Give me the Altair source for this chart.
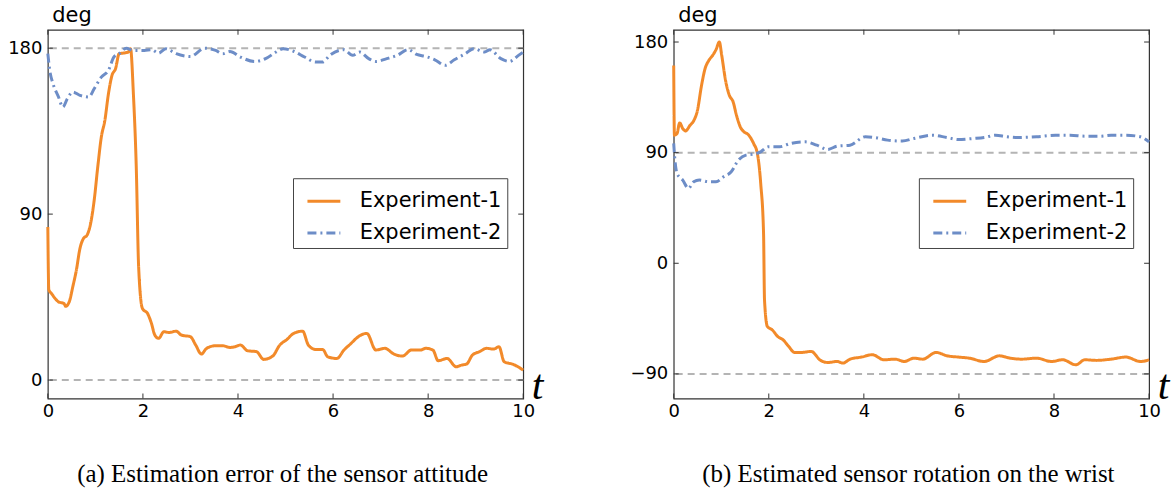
import altair as alt
import pandas as pd

# ---------------- data ----------------
# panel (a): estimation error of the sensor attitude
T_A1 = [0, 0.02, 0.075, 0.225, 0.34, 0.375, 0.45, 0.525, 0.6, 0.675,
        0.75, 0.825, 0.9, 0.975, 1.05, 1.125, 1.2, 1.275, 1.35, 1.425,
        1.5, 1.575, 1.69, 1.74, 1.8, 1.86, 1.91, 1.99, 2.1, 2.18,
        2.25, 2.33, 2.44, 2.55, 2.7, 2.81, 3.0, 3.11, 3.23, 3.34,
        3.53, 3.68, 3.83, 3.94, 4.05, 4.2, 4.39, 4.54, 4.73, 4.88,
        5.03, 5.17, 5.36, 5.48, 5.63, 5.78, 5.89, 6.08, 6.23, 6.38,
        6.53, 6.71, 6.9, 7.09, 7.28, 7.46, 7.65, 7.84, 7.95, 8.1,
        8.21, 8.4, 8.59, 8.7, 8.81, 8.93, 9.08, 9.23, 9.38, 9.49,
        9.6, 9.79, 10]
V_A1 = [83, 49, 47, 42.4, 41.5, 40, 42.4, 50.6, 59.6, 71.3,
        76.8, 78.6, 84.9, 97.5, 115.6, 131.8, 140.9, 155.3, 165.3, 168.9,
        177, 177.3, 177.9, 179.7, 155, 115.6, 61.4, 38.8, 36, 30.7,
        24.4, 22.6, 26.2, 25.8, 26.5, 24.4, 23.5, 19, 14.1, 17.2,
        18.6, 18.6, 17.7, 18.1, 19, 15.9, 15.4, 11.2, 13, 19,
        22, 25.3, 26.5, 19, 16.6, 16.6, 12.6, 11.7, 16.3, 19.9,
        23.5, 25.3, 16.3, 17.2, 14.1, 13, 16.3, 16.3, 17.2, 16.3,
        10.5, 11.7, 7.2, 8.1, 8.7, 13.5, 15.4, 17.2, 16.8, 18.1,
        9.9, 8.5, 5.4]
T_A2 = [0, 0.04, 0.11, 0.225, 0.315, 0.41, 0.525, 0.675, 0.86, 0.975,
        1.125, 1.275, 1.39, 1.5, 1.65, 1.8, 2.03, 2.18, 2.33, 2.48,
        2.7, 3.0, 3.3, 3.53, 3.68, 3.83, 4.05, 4.35, 4.58, 4.8,
        4.95, 5.18, 5.4, 5.63, 5.78, 5.93, 6.23, 6.41, 6.56, 6.75,
        6.9, 7.13, 7.35, 7.58, 7.76, 7.95, 8.14, 8.36, 8.55, 8.78,
        8.96, 9.19, 9.3, 9.53, 9.71, 9.9, 10]
V_A2 = [177, 168, 160.7, 153.5, 148, 152.6, 156.2, 154.4, 153.5, 158,
        164.3, 168, 175.2, 177, 180, 178.8, 178.8, 179.2, 177.3, 179.7,
        177, 175.5, 180, 178.8, 177, 178.2, 175.2, 172.8, 174.3, 177.9,
        179.7, 178.2, 175.2, 172.5, 172.5, 176.1, 179.2, 176.1, 177.9, 174.3,
        172.8, 174.3, 176.1, 179.2, 176.6, 175.5, 173.7, 170.7, 173.7, 177,
        179.7, 177.9, 179.2, 174.3, 172.8, 176.1, 177.9]

# panel (b): estimated sensor rotation on the wrist
T_B1 = [0, 0.015, 0.07, 0.125, 0.19, 0.25, 0.345, 0.42, 0.5, 0.58,
        0.66, 0.74, 0.82, 0.89, 0.96, 1.01, 1.09, 1.17, 1.25, 1.32,
        1.4, 1.48, 1.56, 1.68, 1.76, 1.83, 1.89, 1.91, 1.97, 2.07,
        2.19, 2.3, 2.42, 2.54, 2.7, 2.89, 3.09, 3.24, 3.44, 3.56,
        3.71, 3.95, 4.18, 4.42, 4.66, 4.85, 5.05, 5.24, 5.52, 5.75,
        5.99, 6.22, 6.53, 6.85, 7.08, 7.32, 7.63, 7.95, 8.18, 8.46,
        8.65, 8.89, 9.2, 9.51, 9.82, 10]
V_B1 = [161, 104.2, 105.6, 114.2, 109.6, 107.7, 112.3, 115.9, 124.5, 143.5,
        158.4, 165.1, 169.2, 173.8, 180, 169.2, 148.9, 136.7, 131.3, 120.5,
        111, 106.9, 105, 97.5, 89.3, 65, 24.4, -29.8, -51.4, -54.1,
        -59.6, -62.3, -67.7, -72.5, -72.5, -71.7, -79, -80.7, -79.9, -81.2,
        -78, -76.3, -74.4, -78.5, -78, -79.9, -77.2, -78, -72.5, -75.3,
        -76.3, -77.2, -79.9, -75.3, -77.2, -78, -77.2, -79.9, -78.5, -82.6,
        -78.5, -79, -78, -76.3, -79.9, -78.5]
T_B2 = [0, 0.02, 0.07, 0.19, 0.31, 0.42, 0.54, 0.74, 0.89, 1.05,
        1.21, 1.36, 1.52, 1.68, 1.83, 1.99, 2.23, 2.46, 2.77, 3.01,
        3.24, 3.44, 3.71, 4.03, 4.26, 4.5, 4.81, 5.05, 5.44, 5.75,
        5.99, 6.3, 6.53, 6.77, 7.01, 7.24, 7.63, 8.03, 8.34, 8.65,
        8.97, 9.2, 9.51, 9.82, 10]
V_B2 = [97.5, 86.6, 73, 67.7, 60.9, 66.3, 67.7, 66.3, 66.3, 70.4,
        74.4, 83.9, 88, 88.8, 90.7, 94.8, 94.8, 97.5, 98.8, 96.1,
        92.6, 95.3, 96.1, 102.9, 102.1, 100.2, 99.4, 101.5, 104.2, 102.3,
        100.7, 101.5, 102.3, 104.2, 102.9, 102.3, 102.9, 104.2, 104.2, 103.4,
        103.4, 104.2, 104.2, 102.9, 98.8]

SERIES = ["Experiment-1", "Experiment-2"]
COLORS = ["#F28A2A", "#6D8DC7"]
DASHES = [[1, 0], [9, 4, 2, 4]]
X_TICKS = [0, 2, 4, 6, 8, 10]
Y_TICKS_A = [0, 90, 180]
Y_TICKS_B = [-90, 0, 90, 180]
REF_A = [0, 180]
REF_B = [-90, 90]
Y_DOM_A = [-10, 190]
Y_DOM_B = [-110, 190]
CAPTION_A = "(a) Estimation error of the sensor attitude"
CAPTION_B = "(b) Estimated sensor rotation on the wrist"

W, H = 477, 370
FRAME = "#333333"


def panel(t1, v1, t2, v2, ydom, yticks, refs, caption):
    df = pd.concat([
        pd.DataFrame({"t": t1, "v": v1, "s": SERIES[0]}),
        pd.DataFrame({"t": t2, "v": v2, "s": SERIES[1]}),
    ])
    xs = alt.Scale(domain=[0, 10], nice=False, zero=False)
    ys = alt.Scale(domain=ydom, nice=False, zero=False)

    x_axis = alt.Axis(
        values=X_TICKS, format="d",
        titleFont="Liberation Serif", titleFontStyle="italic",
        titleFontWeight="normal", titleFontSize=42, titleColor="black",
        titleX=491, titleY=0, titleAlign="center", titleBaseline="alphabetic",
        labelFont="DejaVu Sans", labelFontSize=18, labelColor="black",
        labelPadding=4, labelFlush=False, ticks=False, domain=False, grid=False,
    )
    y_axis = alt.Axis(
        values=yticks, format="d", titleAngle=0,
        titleFont="DejaVu Sans", titleFontSize=21, titleFontWeight="normal",
        titleColor="black", titleX=4, titleY=-8, titleAlign="left",
        titleBaseline="alphabetic",
        labelFont="DejaVu Sans", labelFontSize=18, labelColor="black",
        labelPadding=6, labelFlush=False, ticks=False, domain=False, grid=False,
    )

    ref = alt.Chart(pd.DataFrame({"r": refs})).mark_rule(
        color="#b4b4b4", strokeWidth=2, strokeDash=[7, 5]
    ).encode(y=alt.Y("r:Q", scale=ys, title="deg", axis=y_axis))

    leg = alt.Legend(
        orient="none", legendX=246, legendY=149, title=None,
        symbolType="stroke", symbolSize=1089, symbolStrokeWidth=3,
        symbolOffset=8,
        labelFont="DejaVu Sans", labelFontSize=21, labelColor="black",
        labelOffset=18, padding=5, rowPadding=4,
        strokeColor="#444444", fillColor="white", cornerRadius=0,
    )

    lines = alt.Chart(df).mark_line(strokeWidth=3, interpolate="monotone").encode(
        x=alt.X("t:Q", scale=xs, title="t", axis=x_axis),
        y=alt.Y("v:Q", scale=ys, title="deg", axis=y_axis),
        color=alt.Color("s:N", scale=alt.Scale(domain=SERIES, range=COLORS), legend=leg),
        strokeDash=alt.StrokeDash("s:N", scale=alt.Scale(domain=SERIES, range=DASHES), legend=leg),
    )

    xt = alt.Chart(pd.DataFrame({"x": X_TICKS}))
    yt = alt.Chart(pd.DataFrame({"y": yticks}))
    tick_style = dict(color=FRAME, strokeWidth=1)
    t_bottom = xt.mark_rule(**tick_style).encode(
        x=alt.X("x:Q", scale=xs, title="t", axis=x_axis), y=alt.value(H), y2=alt.value(H - 5))
    t_top = xt.mark_rule(**tick_style).encode(
        x=alt.X("x:Q", scale=xs, title="t", axis=x_axis), y=alt.value(0), y2=alt.value(5))
    t_left = yt.mark_rule(**tick_style).encode(
        y=alt.Y("y:Q", scale=ys, title="deg", axis=y_axis), x=alt.value(0), x2=alt.value(5))
    t_right = yt.mark_rule(**tick_style).encode(
        y=alt.Y("y:Q", scale=ys, title="deg", axis=y_axis), x=alt.value(W - 5), x2=alt.value(W))

    cap = alt.Chart(pd.DataFrame({"c": [caption]})).mark_text(
        font="Liberation Serif", fontSize=25, align="center",
        baseline="alphabetic", color="black",
    ).encode(text="c:N", x=alt.value(W / 2 - 3), y=alt.value(454))

    return alt.layer(ref, lines, t_bottom, t_top, t_left, t_right, cap).properties(
        width=W, height=H)


pa = panel(T_A1, V_A1, T_A2, V_A2, Y_DOM_A, Y_TICKS_A, REF_A, CAPTION_A)
pb = panel(T_B1, V_B1, T_B2, V_B2, Y_DOM_B, Y_TICKS_B, REF_B, CAPTION_B)

chart = alt.hconcat(pa, pb, spacing=151, bounds="flush").resolve_scale(
    color="independent", strokeDash="independent"
).properties(
    padding={"left": 7, "top": 3, "right": 5, "bottom": 5},
    background="white",
).configure_view(stroke=FRAME, strokeWidth=1.2)

chart.save("out.html", embed_options={"renderer": "svg", "actions": False})
